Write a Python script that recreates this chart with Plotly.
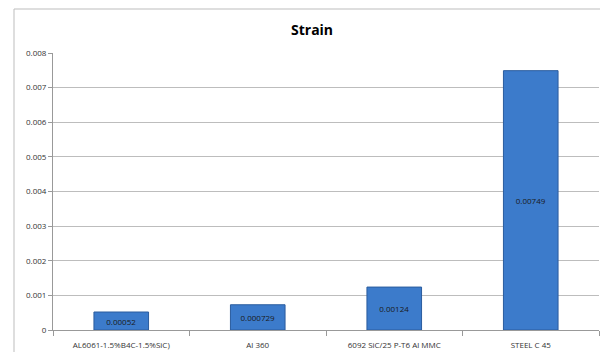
import plotly.graph_objects as go

categories = ["AL6061-1.5%B4C-1.5%SiC)", "Al 360", "6092 SiC/25 P-T6 Al MMC", "STEEL C 45"]
strain = [0.00052, 0.000729, 0.00124, 0.00749]
labels = ["0.00052", "0.000729", "0.00124", "0.00749"]
tick_vals = [0, 0.001, 0.002, 0.003, 0.004, 0.005, 0.006, 0.007, 0.008]
tick_text = ["0", "0.001", "0.002", "0.003", "0.004", "0.005", "0.006", "0.007", "0.008"]

# page has 8px body margin; keep figure inside the 608x360 window
W, H = 592, 344
ml, mr, mt, mb = 45, 1, 45, 22
pw, ph = W - ml - mr, H - mt - mb

bx0 = (6 - ml) / pw
bx1 = (W - ml) / pw
by0 = -(mb + 2) / ph
by1 = 1 + (mt - 1) / ph

fig = go.Figure()
fig.add_trace(go.Bar(
    x=categories, y=strain, text=labels, textposition="inside",
    insidetextanchor="middle",
    textfont=dict(family="Open Sans, Liberation Sans, sans-serif", size=8, color="#1a1a1a"),
    marker=dict(color="#3C7BCB", line=dict(color="#2A5C9E", width=1)),
    width=0.4,
))

fig.update_layout(
    width=W, height=H,
    margin=dict(l=ml, r=mr, t=mt, b=mb),
    paper_bgcolor="white", plot_bgcolor="white",
    showlegend=False,
    font=dict(family="Open Sans, Liberation Sans, sans-serif", size=8, color="#333"),
    xaxis=dict(showline=True, linecolor="#999", linewidth=1, ticks="outside",
               tickson="boundaries", ticklen=5, tickcolor="#999", ticklabelstandoff=7,
               tickfont=dict(size=8, color="#333"), showgrid=False),
    yaxis=dict(range=[0, 0.008], tickvals=tick_vals, ticktext=tick_text,
               showline=True, linecolor="#999", linewidth=1, ticks="outside",
               ticklen=4, tickcolor="#999", gridcolor="#BDBDBD", gridwidth=1,
               tickfont=dict(size=8, color="#333"), zeroline=False),
    annotations=[dict(text="<b>Strain</b>", xref="paper", yref="paper",
                      x=(304 - ml) / pw, y=1 + (mt - 21) / ph, xanchor="center", yanchor="middle",
                      showarrow=False,
                      font=dict(family="Open Sans, Liberation Sans, sans-serif", size=14, color="#000"))],
    shapes=[dict(type="path", xref="paper", yref="paper",
                 path=f"M {bx0},{by0} L {bx0},{by1} L {bx1},{by1}",
                 line=dict(color="#BDBDBD", width=1), layer="below")],
)

fig.write_html("out.html")
